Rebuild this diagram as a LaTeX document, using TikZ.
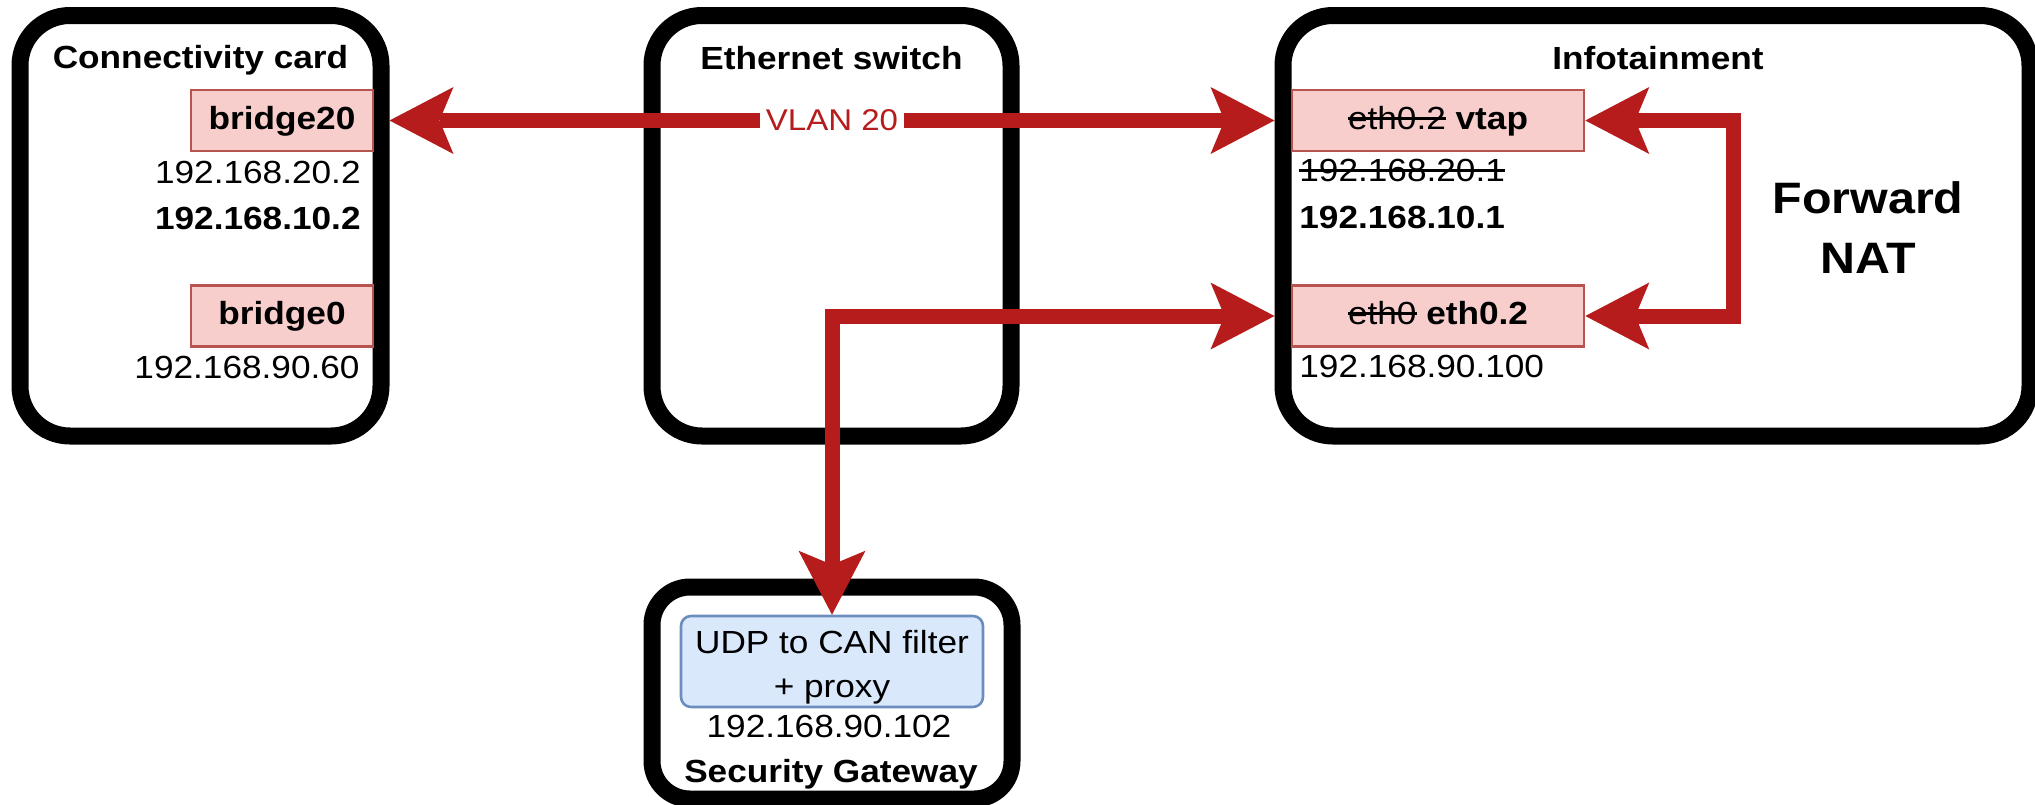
\documentclass[tikz,border=0pt]{standalone}
\usepackage{fontspec}
\setmainfont{Liberation Sans}[FakeStretch=1.1]
\usetikzlibrary{arrows.meta}

\definecolor{wirered}{RGB}{183,28,28}
\definecolor{iffill}{HTML}{F8CECC}
\definecolor{ifdraw}{HTML}{B85450}
\definecolor{procfill}{HTML}{DAE8FC}
\definecolor{procdraw}{HTML}{6C8EBF}

\newcommand{\bodyfont}{\fontsize{16pt}{19pt}\selectfont}
\newcommand{\natfont}{\fontsize{22pt}{30pt}\selectfont\bfseries}
\newcommand{\vlanfont}{\fontsize{15pt}{18pt}\selectfont}
% crossed-out text: a rule through the middle of the x-height
\newcommand{\strikeout}[1]{\setbox0\hbox{#1}\rlap{\rule[0.55ex]{\wd0}{1.5pt}}\box0\relax}

\tikzset{
  device/.style={draw=black, line width=8.5pt, rounded corners=25pt, inner sep=0pt},
  iface/.style={draw=ifdraw, fill=iffill, line width=1.3pt, minimum height=30.5pt,
                inner sep=0pt, font=\bodyfont, text height=12pt, text depth=3.5pt},
  proc/.style={draw=procdraw, fill=procfill, line width=1.3pt, rounded corners=5pt,
               minimum width=151pt, minimum height=45.5pt, inner sep=0pt,
               align=center, font=\fontsize{16pt}{22pt}\selectfont},
  title/.style={font=\bodyfont\bfseries, inner sep=0pt},
  addr/.style={font=\bodyfont, inner sep=0pt},
  tipshape/.tip={Stealth[length=32pt, width=33.5pt, inset=7pt, line width=0pt]},
  wire/.style={draw=wirered, line width=7.5pt, tipshape-tipshape},
  vlan/.style={fill=white, text=wirered, font=\vlanfont, inner xsep=3pt, inner ysep=2pt}
}

\begin{document}
\begin{tikzpicture}[x=0.5pt, y=-0.5pt]
  \path[use as bounding box] (0,0) rectangle (2035,804);
  \clip (0,0) rectangle (2035,804);

  % device frames
  \node[device, minimum width=180.5pt, minimum height=210.25pt] (conn) at (200.5,225.75) {};
  \node[device, minimum width=179.5pt, minimum height=210.25pt] (sw)   at (831.5,225.75) {};
  \node[device, minimum width=373.5pt, minimum height=210.25pt] (info) at (1656.5,225.75) {};
  \node[device, minimum width=180pt, minimum height=106pt, rounded corners=19pt] (sgw) at (832,693) {};

  % device titles
  \node[title, anchor=base] (conntitle) at (200.5,68) {Connectivity card};
  \node[title, anchor=base] (swtitle)   at (831.5,69) {Ethernet switch};
  \node[title, anchor=base] (infotitle) at (1658,69) {Infotainment};

  % connectivity card interfaces
  \node[iface, minimum width=91pt] (b20) at (282,120.5) {\bfseries bridge20};
  \node[addr, anchor=base east] (b20ipa) at (361,183) {192.168.20.2};
  \node[addr, anchor=base east, font=\bodyfont\bfseries] (b20ipb) at (361,229) {192.168.10.2};
  \node[iface, minimum width=91pt] (b0) at (282,316) {\bfseries bridge0};
  \node[addr, anchor=base east] (b0ip) at (360,378) {192.168.90.60};

  % infotainment interfaces
  \node[iface, minimum width=146pt] (vtap) at (1438,120.5) {\strikeout{eth0.2} \textbf{vtap}};
  \node[addr, anchor=base west] (vtapipa) at (1299,181) {\strikeout{192.168.20.1}};
  \node[addr, anchor=base west, font=\bodyfont\bfseries] (vtapipb) at (1299,228) {192.168.10.1};
  \node[iface, minimum width=146pt] (eth02) at (1438,316) {\strikeout{eth0} \textbf{eth0.2}};
  \node[addr, anchor=base west] (eth02ip) at (1299,377) {192.168.90.100};
  \node[font=\natfont, align=center, inner sep=0pt, anchor=base] (nat) at (1868,273) {Forward\\NAT};

  % security gateway
  \node[proc] (udp) at (832,661.5) {\rule{0pt}{17pt}UDP to CAN filter\\+ proxy};
  \node[addr, anchor=base] (sgwip) at (829,737) {192.168.90.102};
  \node[title, anchor=base] (sgwtitle) at (831,782) {Security Gateway};

  % links
  \coordinate (natx) at (1733,0);
  \draw[wire] (conn.east |- b20) -- node[vlan] (vlanlbl) {VLAN 20} (info.west |- b20);
  \draw[wire] (vtap.east) -- (vtap.east -| natx) |- (eth02.east);
  \draw[wire] (udp.north) |- (info.west |- eth02);
\end{tikzpicture}
\end{document}
